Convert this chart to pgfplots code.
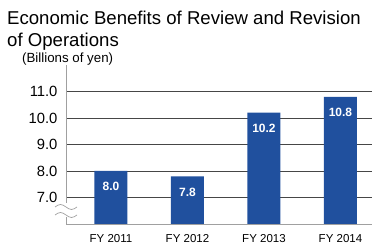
\documentclass[border=0pt]{standalone}
\usepackage{fontspec}
\setmainfont{Liberation Sans}
\usepackage{pgfplots}
\pgfplotsset{compat=1.18}
\definecolor{barblue}{RGB}{32,80,158}
\definecolor{gridc}{RGB}{70,70,70}
\definecolor{axisc}{RGB}{160,160,160}
\begin{document}
\begin{tikzpicture}[x=1pt,y=1pt]
\useasboundingbox (0,0) rectangle (372,245);
\node[anchor=base west, inner sep=0, font=\fontsize{18.6}{18.6}\selectfont] at (7,220) {Economic Benefits of Review and Revision};
\node[anchor=base west, inner sep=0, font=\fontsize{18.6}{18.6}\selectfont] at (7,198) {of Operations};
\node[anchor=base west, inner sep=0, font=\fontsize{13.3}{13.3}\selectfont] at (22,182.5) {(Billions of yen)};
\begin{axis}[
  at={(66pt,21pt)}, anchor=south west,
  scale only axis, width=306pt, height=159pt,
  xmin=-0.588, xmax=3.412, ymin=6, ymax=12,
  ytick={7,8,9,10,11},
  xtick={0,1,2,3},
  xticklabels={FY 2011,FY 2012,FY 2013,FY 2014},
  axis lines*=left,
  axis line style={color=axisc, line width=0.8pt},
  ymajorgrids, grid style={color=gridc, line width=0.8pt},
  major tick length=0pt,
  yticklabel style={/pgf/number format/.cd, fixed, fixed zerofill, precision=1, assume math mode=true, /tikz/.cd, font=\fontsize{14.8}{14.8}\selectfont, xshift=-5pt},
  xticklabel style={font=\fontsize{11.5}{11.5}\selectfont, yshift=-7pt},
  ybar, bar width=33pt,
  nodes near coords,
  nodes near coords style={/pgf/number format/.cd, fixed, fixed zerofill, precision=1, assume math mode=true, /tikz/.cd, white, font=\bfseries\fontsize{12}{12}\selectfont, anchor=north, yshift=-8pt},
]
\addplot[fill=barblue, draw=none] coordinates {(0,8.0) (1,7.8) (2,10.2) (3,10.8)};
\end{axis}
\fill[white] (62,28) rectangle (70,42);
\draw[axisc, line width=0.7pt] (55,38) sin (60.5,40.5) cos (66,38) sin (71.5,35.5) cos (77,38);
\draw[axisc, line width=0.7pt] (55,30) sin (60.5,32.5) cos (66,30) sin (71.5,27.5) cos (77,30);
\end{tikzpicture}
\end{document}
